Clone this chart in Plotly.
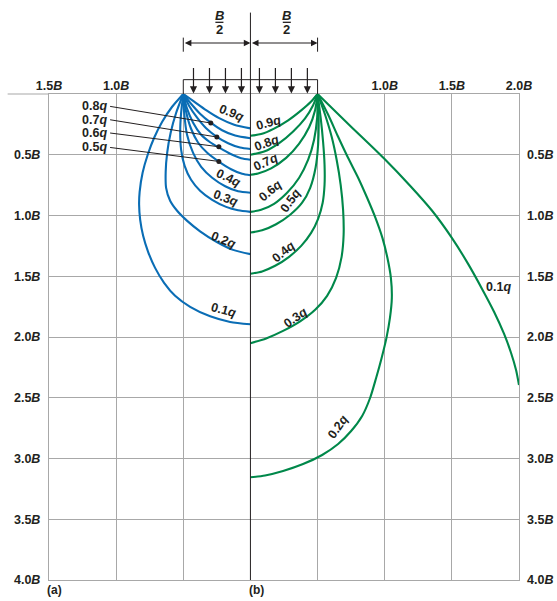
import plotly.graph_objects as go

FONT = "Liberation Sans"
BLUE = "#0a6db5"
GREEN = "#00884a"
GRID = "#a8a8a8"
INK = "#231f20"

# ---------------- axis ticks (units of B) ----------------
x_tick_vals = [-1.5, -1.0, -0.5, 0.5, 1.0, 1.5, 2.0]
x_tick_text = ["1.5<i>B</i>", "1.0<i>B</i>", "", "", "1.0<i>B</i>", "1.5<i>B</i>", "2.0<i>B</i>"]
z_tick_vals = [0.5, 1.0, 1.5, 2.0, 2.5, 3.0, 3.5, 4.0]
z_tick_text = ["0.5<i>B</i>", "1.0<i>B</i>", "1.5<i>B</i>", "2.0<i>B</i>",
               "2.5<i>B</i>", "3.0<i>B</i>", "3.5<i>B</i>", "4.0<i>B</i>"]

# ---------------- (a) strip footing isobars (x from centreline, z depth; in B) ----------------
a_09_x = [-0.5, -0.419, -0.330, -0.233, -0.121, 0]
a_09_z = [0, 0.063, 0.133, 0.199, 0.253, 0.283]
a_08_x = [-0.5, -0.442, -0.375, -0.296, -0.211, -0.114, 0]
a_08_z = [0, 0.080, 0.162, 0.236, 0.298, 0.342, 0.364]
a_07_x = [-0.5, -0.457, -0.397, -0.330, -0.250, -0.166, -0.077, 0]
a_07_z = [0, 0.096, 0.195, 0.282, 0.352, 0.405, 0.441, 0.453]
a_06_x = [-0.5, -0.472, -0.427, -0.367, -0.300, -0.233, -0.151, -0.069, 0]
a_06_z = [0, 0.121, 0.236, 0.335, 0.397, 0.442, 0.492, 0.529, 0.541]
a_05_x = [-0.5, -0.479, -0.442, -0.389, -0.322, -0.233, -0.144, -0.062, 0]
a_05_z = [0, 0.146, 0.286, 0.401, 0.484, 0.558, 0.619, 0.657, 0.669]
a_04_x = [-0.5, -0.494, -0.472, -0.427, -0.367, -0.285, -0.188, -0.092, 0]
a_04_z = [0, 0.146, 0.335, 0.484, 0.599, 0.689, 0.759, 0.801, 0.813]
a_03_x = [-0.5, -0.516, -0.523, -0.516, -0.490, -0.442, -0.375, -0.285, -0.181, -0.092, 0]
a_03_z = [0, 0.154, 0.311, 0.459, 0.591, 0.706, 0.796, 0.871, 0.929, 0.957, 0.970]
a_02_x = [-0.5, -0.553, -0.594, -0.620, -0.631, -0.628, -0.598, -0.546, -0.471, -0.375,
          -0.250, -0.129, 0]
a_02_z = [0, 0.154, 0.319, 0.484, 0.640, 0.772, 0.879, 0.961, 1.044, 1.130,
          1.218, 1.283, 1.318]
a_01_x = [-0.5, -0.583, -0.657, -0.717, -0.765, -0.803, -0.825, -0.829, -0.821, -0.799,
          -0.762, -0.710, -0.643, -0.561, -0.449, -0.300, -0.151, 0]
a_01_z = [0, 0.105, 0.228, 0.360, 0.500, 0.648, 0.805, 0.912, 1.036, 1.167,
          1.299, 1.431, 1.554, 1.661, 1.752, 1.830, 1.876, 1.895]

# ---------------- (b) square footing isobars ----------------
b_09_x = [0.5, 0.452, 0.378, 0.281, 0.176, 0.080, 0]
b_09_z = [0, 0.062, 0.135, 0.217, 0.285, 0.330, 0.344]
b_08_x = [0.5, 0.467, 0.407, 0.318, 0.214, 0.102, 0]
b_08_z = [0, 0.092, 0.200, 0.308, 0.404, 0.474, 0.500]
b_07_x = [0.5, 0.482, 0.437, 0.363, 0.266, 0.154, 0.057, 0]
b_07_z = [0, 0.131, 0.274, 0.408, 0.526, 0.612, 0.654, 0.665]
b_06_x = [0.5, 0.497, 0.474, 0.430, 0.363, 0.273, 0.176, 0.080, 0]
b_06_z = [0, 0.195, 0.376, 0.541, 0.689, 0.813, 0.904, 0.953, 0.970]
b_05_x = [0.5, 0.508, 0.504, 0.485, 0.445, 0.385, 0.296, 0.191, 0.087, 0]
b_05_z = [0, 0.212, 0.418, 0.607, 0.772, 0.895, 0.994, 1.072, 1.122, 1.140]
b_04_x = [0.5, 0.523, 0.541, 0.552, 0.552, 0.538, 0.504, 0.452, 0.378, 0.288, 0.184, 0.087, 0]
b_04_z = [0, 0.195, 0.393, 0.582, 0.747, 0.895, 1.027, 1.143, 1.250, 1.340, 1.414, 1.460, 1.480]
b_03_x = [0.5, 0.556, 0.605, 0.642, 0.672, 0.690, 0.694, 0.679, 0.638, 0.571, 0.482,
          0.370, 0.243, 0.117, 0]
b_03_z = [0, 0.171, 0.352, 0.541, 0.747, 0.953, 1.159, 1.340, 1.513, 1.661, 1.776,
          1.871, 1.950, 2.012, 2.051]
b_02_x = [0.5, 0.579, 0.653, 0.727, 0.802, 0.869, 0.931, 0.983, 1.020, 1.046, 1.053, 1.039,
          1.013, 0.977, 0.936, 0.891, 0.832, 0.750, 0.653, 0.534, 0.392, 0.243, 0.109, 0]
b_02_z = [0, 0.171, 0.352, 0.525, 0.689, 0.854, 1.019, 1.184, 1.348, 1.513, 1.678, 1.843,
          2.007, 2.172, 2.337, 2.502, 2.650, 2.774, 2.881, 2.971, 3.046, 3.103, 3.140, 3.155]
b_01_x = [0.5, 0.742, 0.990, 1.189, 1.353, 1.500, 1.621, 1.725, 1.815, 1.889, 1.941, 1.978, 2.0]
b_01_z = [0, 0.261, 0.525, 0.755, 0.961, 1.184, 1.398, 1.604, 1.794, 1.975, 2.132, 2.272, 2.395]

strip_curves = [a_09_x, a_09_z, a_08_x, a_08_z, a_07_x, a_07_z, a_06_x, a_06_z,
                a_05_x, a_05_z, a_04_x, a_04_z, a_03_x, a_03_z, a_02_x, a_02_z, a_01_x, a_01_z]
square_curves = [b_09_x, b_09_z, b_08_x, b_08_z, b_07_x, b_07_z, b_06_x, b_06_z,
                 b_05_x, b_05_z, b_04_x, b_04_z, b_03_x, b_03_z, b_02_x, b_02_z, b_01_x, b_01_z]

# label texts and placement (x, z, angle)
strip_labels = [("0.9", -0.139, 0.153, 22), ("0.4", -0.164, 0.689, 25), ("0.3", -0.188, 0.857, 20),
                ("0.2", -0.201, 1.200, 22), ("0.1", -0.201, 1.777, 15)]
strip_leader_labels = [("0.8", 0.102, -0.295, 0.239), ("0.7", 0.212, -0.25, 0.354),
                       ("0.6", 0.321, -0.235, 0.434), ("0.5", 0.440, -0.235, 0.555)]
square_labels = [("0.9", 0.134, 0.236, -15), ("0.8", 0.122, 0.400, -20), ("0.7", 0.115, 0.560, -25),
                 ("0.6", 0.147, 0.800, -40), ("0.5", 0.296, 0.881, -55), ("0.4", 0.246, 1.300, -40),
                 ("0.3", 0.333, 1.845, -35), ("0.2", 0.649, 2.738, -55), ("0.1", 1.847, 1.585, 0)]
load_arrow_x = [-0.424, -0.305, -0.186, -0.067, 0.067, 0.186, 0.305, 0.424]

fig = go.Figure()


def add_curves(curves, color):
    for i in range(0, len(curves), 2):
        fig.add_trace(go.Scatter(x=curves[i], y=curves[i + 1], mode="lines",
                                 line=dict(color=color, width=2.1, shape="spline", smoothing=0.7),
                                 hoverinfo="skip", showlegend=False))


add_curves(strip_curves, BLUE)
add_curves(square_curves, GREEN)

# convergence points at footing edges
fig.add_trace(go.Scatter(x=[-0.5], y=[0.02], mode="markers", cliponaxis=False,
                         marker=dict(symbol="triangle-up", size=8, color=BLUE),
                         hoverinfo="skip", showlegend=False))
fig.add_trace(go.Scatter(x=[0.5], y=[0.02], mode="markers", cliponaxis=False,
                         marker=dict(symbol="triangle-up", size=8, color=GREEN),
                         hoverinfo="skip", showlegend=False))

# leader lines + dots for strip labels
for txt, zl, xd, zd in strip_leader_labels:
    fig.add_trace(go.Scatter(x=[-1.045, xd], y=[zl, zd], mode="lines",
                             line=dict(color=INK, width=1), hoverinfo="skip", showlegend=False))
fig.add_trace(go.Scatter(x=[d[2] for d in strip_leader_labels], y=[d[3] for d in strip_leader_labels],
                         mode="markers", marker=dict(color=INK, size=5),
                         hoverinfo="skip", showlegend=False))

# dummy trace for right axis
fig.add_trace(go.Scatter(x=[0], y=[0], yaxis="y2", mode="markers", marker=dict(opacity=0),
                         hoverinfo="skip", showlegend=False))

lab_font = dict(family=FONT, size=12.5, color=INK, weight="bold")
ann = []
for txt, x, z, ang in strip_labels + square_labels:
    ann.append(dict(x=x, y=z, xref="x", yref="y", text=txt + "<i>q</i>", showarrow=False,
                    textangle=ang, font=lab_font))
for txt, zl, xd, zd in strip_leader_labels:
    ann.append(dict(x=-1.052, y=zl, xref="x", yref="y", text=txt + "<i>q</i>", showarrow=False,
                    xanchor="right", font=lab_font))


def px_(xb):
    return (xb + 1.5) / 3.5


def py_(zb):
    return 1 - zb / 4.0


shapes = []
line_k = dict(color=INK, width=1)
# centreline
shapes.append(dict(type="line", xref="paper", yref="paper", x0=px_(0), x1=px_(0),
                   y0=0, y1=py_(-0.67), line=line_k))
# ground surface extension
shapes.append(dict(type="line", xref="paper", yref="paper", x0=-0.088, x1=0, y0=1, y1=1,
                   line=dict(color=GRID, width=1.2)))
# load line and edge ticks
shapes.append(dict(type="line", xref="paper", yref="paper", x0=px_(-0.5), x1=px_(0.5),
                   y0=py_(-0.118), y1=py_(-0.118), line=line_k))
for xe in (-0.5, 0.5):
    shapes.append(dict(type="line", xref="paper", yref="paper", x0=px_(xe), x1=px_(xe),
                       y0=py_(-0.118), y1=py_(0), line=line_k))
    shapes.append(dict(type="line", xref="paper", yref="paper", x0=px_(xe), x1=px_(xe),
                       y0=py_(-0.464), y1=py_(-0.348), line=line_k))
# fraction bars
frac_font = dict(family=FONT, size=13, color=INK, weight="bold")
for xc in (-0.231, 0.271):
    shapes.append(dict(type="line", xref="paper", yref="paper", x0=px_(xc - 0.03), x1=px_(xc + 0.03),
                       y0=py_(-0.590), y1=py_(-0.590), line=dict(color=INK, width=1.3)))
    ann.append(dict(x=px_(xc), y=py_(-0.645), xref="paper", yref="paper", text="<i>B</i>",
                    xanchor="center", yanchor="middle", showarrow=False, font=frac_font))
    ann.append(dict(x=px_(xc), y=py_(-0.528), xref="paper", yref="paper", text="2",
                    xanchor="center", yanchor="middle", showarrow=False, font=frac_font))

# load arrows
for xa in load_arrow_x:
    ann.append(dict(x=px_(xa), y=py_(-0.005), xref="paper", yref="paper", ax=0, ay=-27,
                    text="", showarrow=True, arrowhead=2, arrowsize=1.2, arrowwidth=1.2,
                    arrowcolor=INK, standoff=0))
# dimension arrows
for xs, xe in ((-0.5, 0.0), (0.0, 0.5)):
    ann.append(dict(x=px_(xe), y=py_(-0.42), xref="paper", yref="paper",
                    ax=-(xe - xs) * 470 / 3.5, ay=0, text="", showarrow=True,
                    arrowhead=2, startarrowhead=2, arrowside="end+start", arrowsize=1.2,
                    startarrowsize=1.2, arrowwidth=1.1, arrowcolor=INK, standoff=0, startstandoff=0))

# panel tags
for tag, xb in (("(a)", -1.457), ("(b)", 0.048)):
    ann.append(dict(x=px_(xb), y=-0.0206, xref="paper", yref="paper", text=tag, showarrow=False,
                    xanchor="center", yanchor="middle",
                    font=dict(family=FONT, size=12, color=INK, weight="bold")))

tick_font = dict(family=FONT, size=12.5, color=INK, weight="bold")
fig.update_layout(
    width=557, height=601, autosize=False,
    margin=dict(l=49, r=38, t=94, b=21),
    paper_bgcolor="white", plot_bgcolor="white",
    xaxis=dict(range=[-1.5, 2.0], side="top", tickvals=x_tick_vals, ticktext=x_tick_text,
               showgrid=True, gridcolor=GRID, gridwidth=1.2, zeroline=False, automargin=False,
               showline=True, linecolor=GRID, linewidth=1.2, mirror=True, ticks="",
               tickfont=tick_font, ticklabelstandoff=-2),
    yaxis=dict(range=[4.0, 0], tickvals=z_tick_vals, ticktext=z_tick_text, automargin=False,
               showgrid=True, gridcolor=GRID, gridwidth=1.2, zeroline=False,
               showline=True, linecolor=GRID, linewidth=1.2, mirror=True, ticks="",
               tickfont=tick_font, ticklabelstandoff=5),
    yaxis2=dict(range=[4.0, 0], overlaying="y", side="right", tickvals=z_tick_vals,
                ticktext=z_tick_text, showgrid=False, zeroline=False, showline=False,
                automargin=False, ticks="", tickfont=tick_font, ticklabelstandoff=7),
    annotations=ann, shapes=shapes,
)

fig.write_html("out.html", config={"displayModeBar": False},
               post_script="document.body.style.margin='0';")
